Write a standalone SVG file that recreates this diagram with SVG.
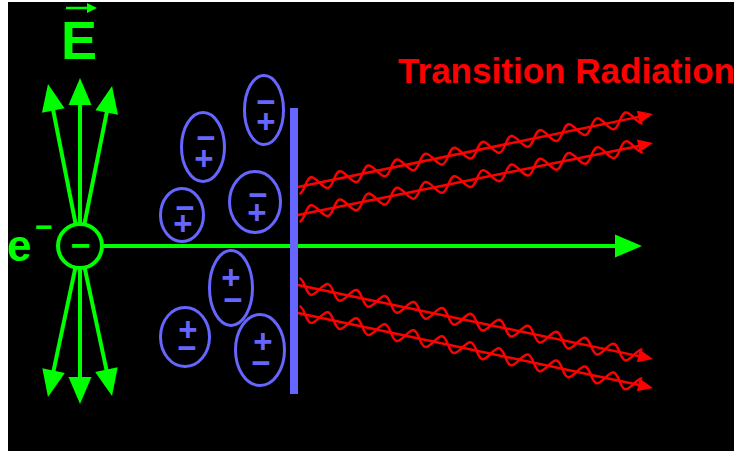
<svg xmlns="http://www.w3.org/2000/svg" xmlns:xlink="http://www.w3.org/1999/xlink" width="734" height="451" viewBox="0 0 734 451">
<style>
.g{stroke:#00ff00;stroke-width:4;fill:none}
.r{stroke:#ff0000;stroke-width:2.5;fill:none}
.dip{stroke:#6666ff;stroke-width:3;fill:none}
.sign{fill:#6666ff;font-family:"Liberation Sans",Arial,sans-serif;font-weight:bold;font-size:33px;text-anchor:middle}
.lbl{font-family:"Liberation Sans",Arial,sans-serif;font-weight:bold}
</style>
<defs>
<marker id="ga" markerUnits="userSpaceOnUse" markerWidth="27" markerHeight="23" refX="10" refY="11.5" orient="auto" overflow="visible">
<path d="M0,0 L27,11.5 L0,23 z" fill="#00ff00"/>
</marker>
<marker id="ra" markerUnits="userSpaceOnUse" markerWidth="15" markerHeight="13" refX="8" refY="6.5" orient="auto" overflow="visible">
<path d="M0,0 L15,6.5 L0,13 z" fill="#ff0000"/>
</marker>
<path id="wave" class="r" d="M0,7 C5.4,7 9.2,-7 14.6,-7 S23.8,7 29.2,7 S38.4,-7 43.8,-7 S53,7 58.4,7 S67.6,-7 73,-7 S82.2,7 87.6,7 S96.8,-7 102.2,-7 S111.4,7 116.8,7 S126,-7 131.4,-7 S140.6,7 146,7 S155.2,-7 160.6,-7 S169.8,7 175.2,7 S184.4,-7 189.8,-7 S199,7 204.4,7 S213.6,-7 219,-7 S228.2,7 233.6,7 S242.8,-7 248.2,-7 S257.4,7 262.8,7 S272,-7 277.4,-7 S286.6,7 292,7 S301.2,-7 306.6,-7 S315.8,7 321.2,7 S330.4,-7 335.8,-7 S345,7 350.4,7"/>
</defs>
<rect x="0" y="0" width="734" height="451" fill="#ffffff"/>
<rect x="8" y="2" width="726" height="449" fill="#000000"/>

<g id="connectors">
<g id="radiation">
<line class="r" x1="298" y1="187" x2="646.1" y2="115.4" marker-end="url(#ra)"/>
<line class="r" x1="298" y1="215" x2="646.1" y2="144.4" marker-end="url(#ra)"/>
<line class="r" x1="298" y1="285" x2="646.1" y2="357.6" marker-end="url(#ra)"/>
<line class="r" x1="298" y1="313" x2="646.1" y2="386.5" marker-end="url(#ra)"/>
<use xlink:href="#wave" transform="translate(298,187) rotate(-11.62)"/>
<use xlink:href="#wave" transform="translate(298,215) rotate(-11.47)"/>
<use xlink:href="#wave" transform="translate(298,285) rotate(11.77) scale(1,-1)"/>
<use xlink:href="#wave" transform="translate(298,313) rotate(11.93) scale(1,-1)"/>
</g>
<g id="field-lines">
<line class="g" x1="80" y1="246" x2="80" y2="95" marker-end="url(#ga)"/>
<line class="g" x1="80" y1="246" x2="51.3" y2="100.7" marker-end="url(#ga)"/>
<line class="g" x1="80" y1="246" x2="108.7" y2="102.7" marker-end="url(#ga)"/>
<line class="g" x1="80" y1="246" x2="80" y2="387" marker-end="url(#ga)"/>
<line class="g" x1="80" y1="246" x2="51.5" y2="380.4" marker-end="url(#ga)"/>
<line class="g" x1="80" y1="246" x2="108.5" y2="379.4" marker-end="url(#ga)"/>
</g>
<line id="trajectory" class="g" x1="104" y1="246" x2="625" y2="246" marker-end="url(#ga)"/>
</g>

<g id="electron">
<circle cx="80" cy="246" r="22" fill="#000000" stroke="#00ff00" stroke-width="4"/>
<text x="81" y="257" class="lbl" font-size="34" fill="#00ff00" text-anchor="middle">−</text>
</g>

<g id="label-e">
<text class="lbl" fill="#00ff00" font-size="44" x="7" y="261">e<tspan x="44" y="237" font-size="30" text-anchor="middle">−</tspan></text>
</g>

<g id="label-E">
<line x1="66" y1="8" x2="89" y2="8" stroke="#00ff00" stroke-width="2.5"/>
<path d="M87,3 L97,8 L87,13 z" fill="#00ff00"/>
<text class="lbl" fill="#00ff00" font-size="54" x="79" y="59" text-anchor="middle">E</text>
</g>

<g id="label-tr">
<text class="lbl" fill="#ff0000" font-size="35" x="398" y="83" textLength="337" lengthAdjust="spacingAndGlyphs">Transition Radiation</text>
</g>

<g id="dipole1"><ellipse class="dip" cx="264" cy="110" rx="19.5" ry="34.5"/><text class="sign"><tspan x="266" y="113">−</tspan><tspan x="266" y="133">+</tspan></text></g>
<g id="dipole2"><ellipse class="dip" cx="203" cy="147" rx="21.5" ry="34.5"/><text class="sign"><tspan x="206" y="149">−</tspan><tspan x="204" y="170">+</tspan></text></g>
<g id="dipole3"><ellipse class="dip" cx="182" cy="215" rx="21.5" ry="26.5"/><text class="sign"><tspan x="185" y="219">−</tspan><tspan x="183" y="235">+</tspan></text></g>
<g id="dipole4"><ellipse class="dip" cx="255" cy="202" rx="25.5" ry="30.5"/><text class="sign"><tspan x="258" y="206">−</tspan><tspan x="257" y="224">+</tspan></text></g>
<g id="dipole5"><ellipse class="dip" cx="231" cy="288" rx="21.5" ry="37.5"/><text class="sign"><tspan x="231" y="289">+</tspan><tspan x="233" y="311">−</tspan></text></g>
<g id="dipole6"><ellipse class="dip" cx="185" cy="337" rx="24.5" ry="29.5"/><text class="sign"><tspan x="188" y="341">+</tspan><tspan x="187" y="359">−</tspan></text></g>
<g id="dipole7"><ellipse class="dip" cx="260" cy="350" rx="24.5" ry="35.5"/><text class="sign"><tspan x="263" y="353">+</tspan><tspan x="261" y="374">−</tspan></text></g>

<g id="plate">
<rect x="290" y="108" width="8" height="286" fill="#6666ff"/>
</g>
</svg>
